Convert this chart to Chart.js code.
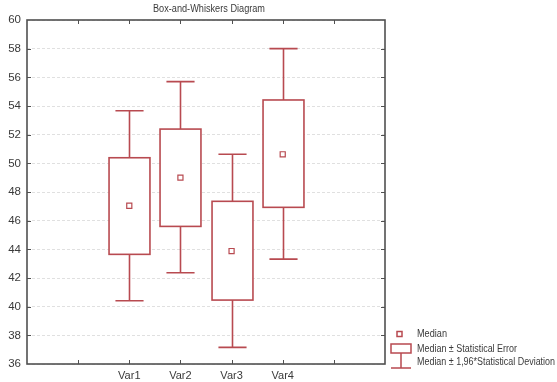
<!DOCTYPE html>
<html>
<head>
<meta charset="utf-8">
<script src="https://cdn.jsdelivr.net/npm/chart.js@4.4.0/dist/chart.umd.min.js"></script>
<style>
html, body { margin: 0; padding: 0; background: #fff; }
#wrap { width: 557px; height: 382px; }
</style>
</head>
<body>
<div id="wrap"><canvas id="boxChart"></canvas></div>
<script>
// data
var categories = ['Var1', 'Var2', 'Var3', 'Var4'];
var positions = [2, 3, 4, 5];
var medians = [47.04, 49.0, 43.88, 50.63];
var boxLow = [43.65, 45.6, 40.46, 46.93];
var boxHigh = [50.39, 52.39, 47.35, 54.42];
var whiskLow = [40.41, 42.37, 37.16, 43.32];
var whiskHigh = [53.67, 55.7, 50.63, 58.0];
var legendLabels = ['Median', 'Median \u00b1 Statistical Error', 'Median \u00b1 1,96*Statistical Deviation'];
var titleText = 'Box-and-Whiskers Diagram';

var red = '#b84a50';
var frameColor = '#505050';
var textColor = '#3a3a3a';

function xLabel(v) {
    var i = positions.indexOf(v);
    return i >= 0 ? categories[i] : '';
}

var boxPlugin = {
    id: 'boxPlugin',
    beforeDatasetsDraw: function(chart) {
        var ctx = chart.ctx;
        var xs = chart.scales.x, ys = chart.scales.y;
        var unit = xs.getPixelForValue(1) - xs.getPixelForValue(0);
        var halfBox = unit * 0.4;
        var halfCap = unit * 0.275;
        ctx.save();
        ctx.strokeStyle = red;
        ctx.lineWidth = 1.6;
        for (var i = 0; i < positions.length; i++) {
            var cx = Math.round(xs.getPixelForValue(positions[i])) + 0.5;
            var wl = ys.getPixelForValue(whiskLow[i]);
            var wh = ys.getPixelForValue(whiskHigh[i]);
            var bl = ys.getPixelForValue(boxLow[i]);
            var bh = ys.getPixelForValue(boxHigh[i]);
            // whisker
            ctx.beginPath();
            ctx.moveTo(cx, wh); ctx.lineTo(cx, bh);
            ctx.moveTo(cx, bl); ctx.lineTo(cx, wl);
            ctx.moveTo(cx - halfCap, wh); ctx.lineTo(cx + halfCap, wh);
            ctx.moveTo(cx - halfCap, wl); ctx.lineTo(cx + halfCap, wl);
            ctx.stroke();
            // box
            ctx.fillStyle = '#fff';
            ctx.fillRect(cx - halfBox, bh, halfBox * 2, bl - bh);
            ctx.strokeRect(cx - halfBox, bh, halfBox * 2, bl - bh);
        }
        ctx.restore();
    },
    afterDraw: function(chart) {
        var ctx = chart.ctx;
        var a = chart.chartArea;
        var xs = chart.scales.x, ys = chart.scales.y;
        ctx.save();
        // frame
        ctx.strokeStyle = frameColor;
        ctx.lineWidth = 1.6;
        ctx.strokeRect(a.left, a.top, a.right - a.left, a.bottom - a.top);
        // inward ticks
        ctx.lineWidth = 1;
        ctx.beginPath();
        for (var v = 38; v < 60; v += 2) {
            var py = Math.round(ys.getPixelForValue(v)) + 0.5;
            ctx.moveTo(a.left, py); ctx.lineTo(a.left + 4, py);
            ctx.moveTo(a.right, py); ctx.lineTo(a.right - 4, py);
        }
        for (var k = 1; k < 7; k++) {
            var px = Math.round(xs.getPixelForValue(k)) + 0.5;
            ctx.moveTo(px, a.top); ctx.lineTo(px, a.top + 4);
            ctx.moveTo(px, a.bottom); ctx.lineTo(px, a.bottom - 4);
        }
        ctx.stroke();

        // title
        ctx.fillStyle = textColor;
        ctx.font = '10px "Liberation Sans", Arial, sans-serif';
        ctx.textAlign = 'center';
        ctx.textBaseline = 'middle';
        ctx.fillText(titleText, (a.left + a.right) / 2 + 3, 9, 112);

        // legend
        var lx = a.right + 6;
        ctx.strokeStyle = red;
        ctx.lineWidth = 1.5;
        ctx.strokeRect(lx + 6, 331.5, 5, 5);
        ctx.strokeRect(lx, 344, 20, 9);
        ctx.beginPath();
        ctx.moveTo(lx + 10, 353); ctx.lineTo(lx + 10, 368);
        ctx.moveTo(lx, 368); ctx.lineTo(lx + 20, 368);
        ctx.stroke();
        ctx.fillStyle = textColor;
        ctx.font = '10px "Liberation Sans", Arial, sans-serif';
        ctx.textAlign = 'left';
        ctx.fillText(legendLabels[0], lx + 26, 334, 30);
        ctx.fillText(legendLabels[1], lx + 26, 349, 100);
        ctx.fillText(legendLabels[2], lx + 26, 362, 138);
        ctx.restore();
    }
};

var ctx = document.getElementById('boxChart').getContext('2d');
var chart = new Chart(ctx, {
    type: 'scatter',
    data: {
        datasets: [{
            label: legendLabels[0],
            data: positions.map(function(p, i) { return { x: p, y: medians[i] }; }),
            pointStyle: 'rect',
            pointRadius: 3.6,
            pointHoverRadius: 3.6,
            borderWidth: 1.2,
            borderColor: red,
            backgroundColor: '#fff'
        }]
    },
    options: {
        responsive: true,
        maintainAspectRatio: false,
        animation: false,
        layout: { padding: { top: 20, right: 172, left: 0, bottom: 0 } },
        plugins: {
            legend: { display: false },
            tooltip: { enabled: false }
        },
        scales: {
            x: {
                type: 'linear',
                min: 0,
                max: 7,
                ticks: {
                    stepSize: 1,
                    callback: xLabel,
                    color: textColor,
                    font: { family: '"Liberation Sans", Arial, sans-serif', size: 11 },
                    padding: 5,
                    maxRotation: 0,
                    autoSkip: false
                },
                grid: { display: false, drawTicks: false },
                border: { display: false },
                afterFit: function(s) { s.height = 18; }
            },
            y: {
                min: 36,
                max: 60,
                ticks: {
                    stepSize: 2,
                    color: textColor,
                    font: { family: '"Liberation Sans", Arial, sans-serif', size: 11.5 },
                    padding: 6
                },
                grid: { color: '#e0e0e0', lineWidth: 1, drawTicks: false },
                border: { display: false, dash: [3, 2] },
                afterFit: function(s) { s.width = 27; }
            }
        }
    },
    plugins: [boxPlugin]
});
</script>
</body>
</html>
